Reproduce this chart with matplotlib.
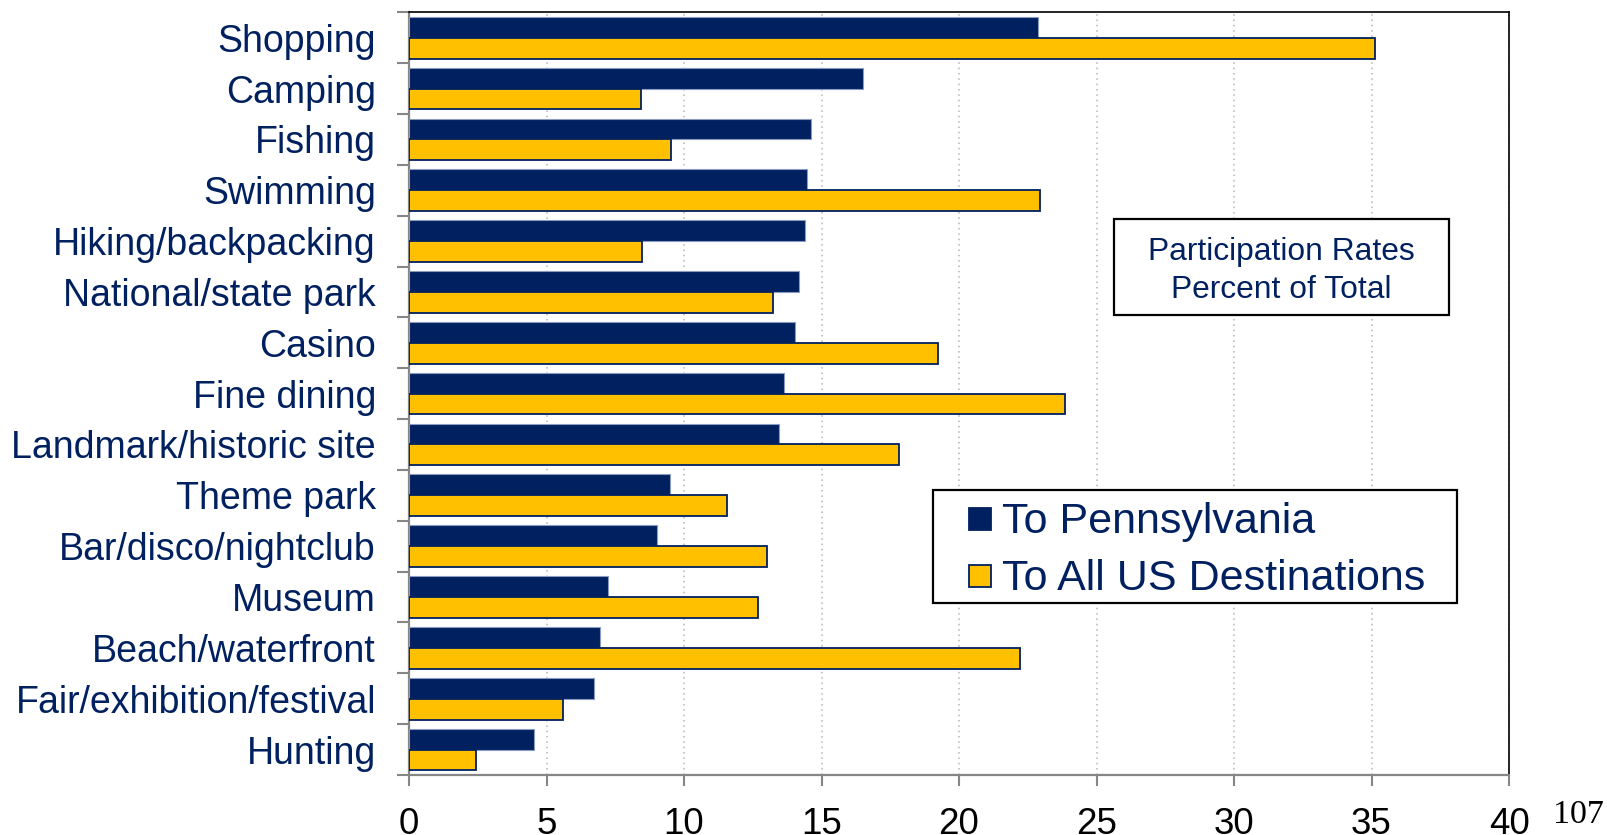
import numpy as np
import matplotlib
matplotlib.use("Agg")
import matplotlib.pyplot as plt
from matplotlib.patches import Rectangle

# Participation rates, percent of total
activities = ["Shopping", "Camping", "Fishing", "Swimming", "Hiking/backpacking",
              "National/state park", "Casino", "Fine dining", "Landmark/historic site",
              "Theme park", "Bar/disco/nightclub", "Museum", "Beach/waterfront",
              "Fair/exhibition/festival", "Hunting"]
to_pennsylvania = [22.86, 16.5, 14.6, 14.47, 14.39, 14.17, 14.04, 13.62, 13.44,
                   9.48, 9.02, 7.25, 6.93, 6.74, 4.56]
to_all_us = [35.12, 8.45, 9.51, 22.95, 8.46, 13.24, 19.23, 23.86, 17.81,
             11.55, 13.0, 12.69, 22.22, 5.61, 2.44]
xticks = [0, 5, 10, 15, 20, 25, 30, 35, 40]
series_names = ["To Pennsylvania", "To All US Destinations"]
box_lines = ["Participation Rates", "Percent of Total"]
page_number = "107"

NAVY = "#002060"
GOLD = "#FFC000"
GRAY = "#868686"
W, H = 1607, 835

plt.rcParams["font.family"] = ["Liberation Sans", "DejaVu Sans"]

fig = plt.figure(figsize=(W / 100, H / 100), dpi=100)
ax = fig.add_axes([409 / W, 1 - 775 / H, 1100 / W, (775 - 12.3) / H])


def fpos(x, y):
    # pixel position -> figure fraction
    return x / W, 1 - y / H


y = np.arange(len(activities))
h = 0.41
ax.barh(y - h / 2, to_pennsylvania, height=h, color=NAVY,
        edgecolor="#8a9ac0", linewidth=0.8, zorder=3)
ax.barh(y + h / 2, to_all_us, height=h, color=GOLD,
        edgecolor=NAVY, linewidth=1.3, zorder=3)

ax.set_xlim(0, 40)
ax.set_ylim(len(activities) - 0.5, -0.5)

# category boundaries get the tick marks, labels sit between them
ax.set_yticks(np.arange(len(activities) + 1) - 0.5)
ax.set_yticklabels([])
ax.set_yticks(y, minor=True)
ax.set_yticklabels(activities, minor=True)
ax.tick_params(axis="y", which="major", direction="out", length=8.6,
               width=1.5, color=GRAY)
ax.tick_params(axis="y", which="minor", length=0, pad=23.8,
               labelsize=27, labelcolor=NAVY)

ax.set_xticks(xticks)
ax.tick_params(axis="x", direction="out", length=7.6, width=1.5, color=GRAY,
               labelsize=26.5, labelcolor="black", pad=15.5)

ax.grid(axis="x", linestyle=(0, (1, 2.5)), color="#b4b4b4", linewidth=1.1)
ax.set_axisbelow(True)

for side in ("left", "bottom"):
    ax.spines[side].set_color(GRAY)
    ax.spines[side].set_linewidth(1.6)
for side in ("top", "right"):
    ax.spines[side].set_color("black")
    ax.spines[side].set_linewidth(1.2)

# title box
x0, y0 = fpos(1114, 315)
x1, y1 = fpos(1449, 219)
fig.patches.append(Rectangle((x0, y0), x1 - x0, y1 - y0, transform=fig.transFigure,
                             facecolor="white", edgecolor="black", linewidth=1.6, zorder=5))
for line, base in zip(box_lines, (260, 298)):
    fig.text(*fpos(1281.5, base), line, ha="center", va="baseline",
             fontsize=22.9, color=NAVY, zorder=6)

# legend
x0, y0 = fpos(933, 603)
x1, y1 = fpos(1457, 490)
fig.patches.append(Rectangle((x0, y0), x1 - x0, y1 - y0, transform=fig.transFigure,
                             facecolor="white", edgecolor="black", linewidth=1.6, zorder=5))
for name, face, edge, cy, base in zip(series_names, (NAVY, GOLD), (NAVY, NAVY),
                                      (519, 576), (533.4, 590.3)):
    sx, sy = fpos(969, cy + 11)
    fig.patches.append(Rectangle((sx, sy), 22 / W, 22 / H, transform=fig.transFigure,
                                 facecolor=face, edgecolor=edge, linewidth=1.3, zorder=6))
    fig.text(*fpos(1002, base), name, ha="left", va="baseline",
             fontsize=31, color=NAVY, zorder=6)

fig.text(*fpos(1553, 823), page_number, ha="left", va="baseline",
         fontsize=24.5, family=["Liberation Serif", "DejaVu Serif"], color="black")

fig.savefig("out.png", dpi=100)
